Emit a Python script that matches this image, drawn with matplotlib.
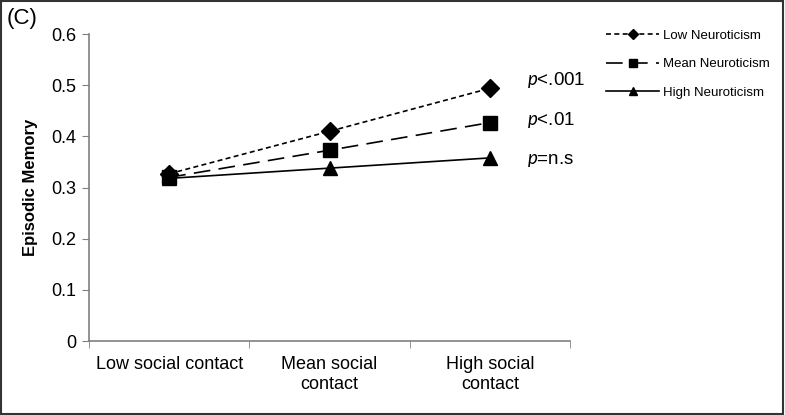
import matplotlib
matplotlib.use("Agg")
import matplotlib.pyplot as plt
from matplotlib.patches import Rectangle

plt.rcParams['font.family'] = ['Liberation Sans', 'DejaVu Sans']
plt.rcParams['mathtext.fontset'] = 'custom'
plt.rcParams['mathtext.it'] = 'Lato:italic'
plt.rcParams['mathtext.rm'] = 'Lato'

# data
categories = ["Low social contact", "Mean social\ncontact", "High social\ncontact"]
low_neuro = [0.327, 0.410, 0.494]
mean_neuro = [0.320, 0.373, 0.427]
high_neuro = [0.318, 0.338, 0.358]
series_names = ["Low Neuroticism", "Mean Neuroticism", "High Neuroticism"]
p_labels = [r"$\it{p}$<.001", r"$\it{p}$<.01", r"$\it{p}$=n.s"]
p_y = [0.510, 0.432, 0.352]
yticks = [0, 0.1, 0.2, 0.3, 0.4, 0.5, 0.6]

fig = plt.figure(figsize=(7.85, 4.15), dpi=100)
ax = fig.add_axes([0.1134, 0.178, 0.613, 0.74])

x = list(range(len(categories)))
ax.plot(x, low_neuro, color='black', lw=1.2, ls=(0, (3, 2)), marker='D', ms=9,
        label=series_names[0])
ax.plot(x, mean_neuro, color='black', lw=1.2, ls=(0, (10, 5)), marker='s', ms=10,
        label=series_names[1])
ax.plot(x, high_neuro, color='black', lw=1.2, ls='-', marker='^', ms=10,
        label=series_names[2])

for lab, yy in zip(p_labels, p_y):
    ax.text(2.23, yy, lab, fontsize=13.5, va='center', ha='left')

ax.set_xlim(-0.5, 2.5)
ax.set_ylim(0, 0.6)
ax.set_yticks(yticks)
ax.set_yticklabels(["0" if v == 0 else f"{v:.1f}" for v in yticks], fontsize=13)
ax.set_xticks(x)
ax.set_xticklabels(categories, fontsize=13, linespacing=1.2)
ax.set_xticks([-0.5, 0.5, 1.5, 2.5], minor=True)
ax.tick_params(axis='x', which='major', length=0, pad=11)
ax.tick_params(axis='x', which='minor', length=5, color='#808080', direction='out')
ax.tick_params(axis='y', length=5, color='#808080', direction='out', pad=4)
for s in ['top', 'right']:
    ax.spines[s].set_visible(False)
for s in ['left', 'bottom']:
    ax.spines[s].set_color('#808080')
    ax.spines[s].set_linewidth(1.2)

ax.set_ylabel("Episodic Memory", fontsize=12, fontweight='bold', labelpad=10)

leg = fig.legend(loc='upper left', bbox_to_anchor=(0.757, 0.958), frameon=False,
                 fontsize=9.5, handlelength=4.0, labelspacing=1.25, handletextpad=0.3,
                 markerscale=0.55)

fig.text(0.008, 0.98, "(C)", fontsize=16, va='top', ha='left')
fig.patches.append(Rectangle((0.001, 0.002), 0.997, 0.995, transform=fig.transFigure,
                             fill=False, edgecolor='#333333', lw=1.5))

fig.savefig("out.png", dpi=100)
